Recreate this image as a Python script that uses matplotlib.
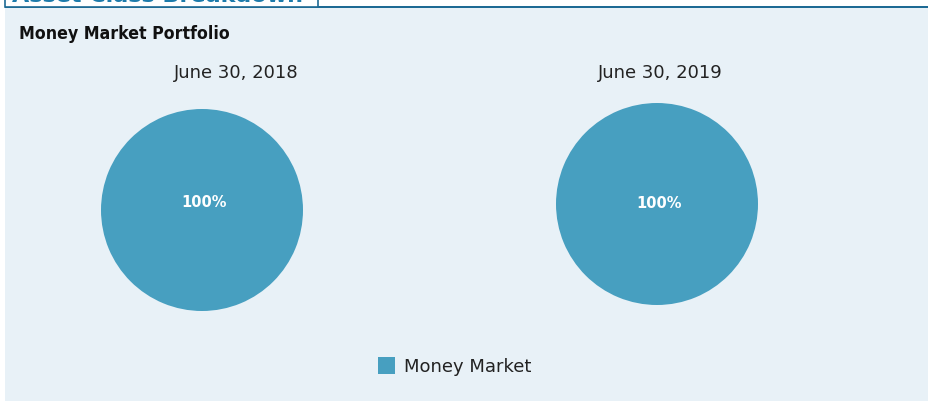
import matplotlib.pyplot as plt
from matplotlib.patches import Rectangle

title = "Money Market Portfolio"
dates = ["June 30, 2018", "June 30, 2019"]
categories = ["Money Market"]
shares_2018 = [100]
shares_2019 = [100]
colors = ["#479fc0"]

W, H = 929, 402
fig = plt.figure(figsize=(W / 100, H / 100), dpi=100)
fig.patch.set_facecolor("white")

# panel background + top rule
fig.patches.append(Rectangle((5 / W, 0), 1 - 5 / W, (H - 9) / H, transform=fig.transFigure,
                             facecolor="#e8f1f7", edgecolor="none", zorder=0))
fig.patches.append(Rectangle((5 / W, (H - 9) / H), 1 - 5 / W, 2 / H, transform=fig.transFigure,
                             facecolor="#1d6a94", edgecolor="none", zorder=1))
# cut-off header box
fig.patches.append(Rectangle((5 / W, (H - 8) / H), 313 / W, 10 / H, transform=fig.transFigure,
                             facecolor="white", edgecolor="#1d6a94", lw=1.2, zorder=1))
fig.text(12 / W, (H + 4) / H, "Asset Class Breakdown", color="#1d7bab", fontsize=16,
         fontweight="bold", va="center", ha="left", zorder=2)

fig.text(19 / W, 1 - 34 / H, title, family="DejaVu Sans", fontstretch="condensed",
         fontweight="bold", fontsize=12.7, va="center", ha="left", color="#111111")

pies = [(shares_2018, (101, 312), 236, 0.08), (shares_2019, (556, 306), 660, 0.01)]
for (vals, (left, bottom_px), tx, dy), date in zip(pies, dates):
    ax = fig.add_axes([left / W, (H - bottom_px) / H, 202 / W, 202 / H])
    ax.set_zorder(3)
    wedges, texts = ax.pie(vals, colors=colors, radius=1, startangle=90,
                           labels=[f"{v}%" for v in vals], labeldistance=0.0,
                           textprops=dict(color="white", fontweight="bold", fontsize=10.5,
                                          family="DejaVu Sans", fontstretch="normal"))
    for t in texts:
        t.set_position((0.02, dy))
        t.set_ha("center")
        t.set_va("center")
    ax.set_xlim(-1, 1)
    ax.set_ylim(-1, 1)
    ax.axis("off")
    fig.text(tx / W, 1 - 73 / H, date, fontsize=13, ha="center", va="center", color="#222222")

# legend
fig.patches.append(Rectangle((378 / W, (H - 375) / H), 17 / W, 17 / H, transform=fig.transFigure,
                             facecolor=colors[0], edgecolor="none"))
fig.text(404 / W, 1 - 367 / H, categories[0], fontsize=13, ha="left", va="center", color="#222222")

fig.savefig("out.png", dpi=100)
